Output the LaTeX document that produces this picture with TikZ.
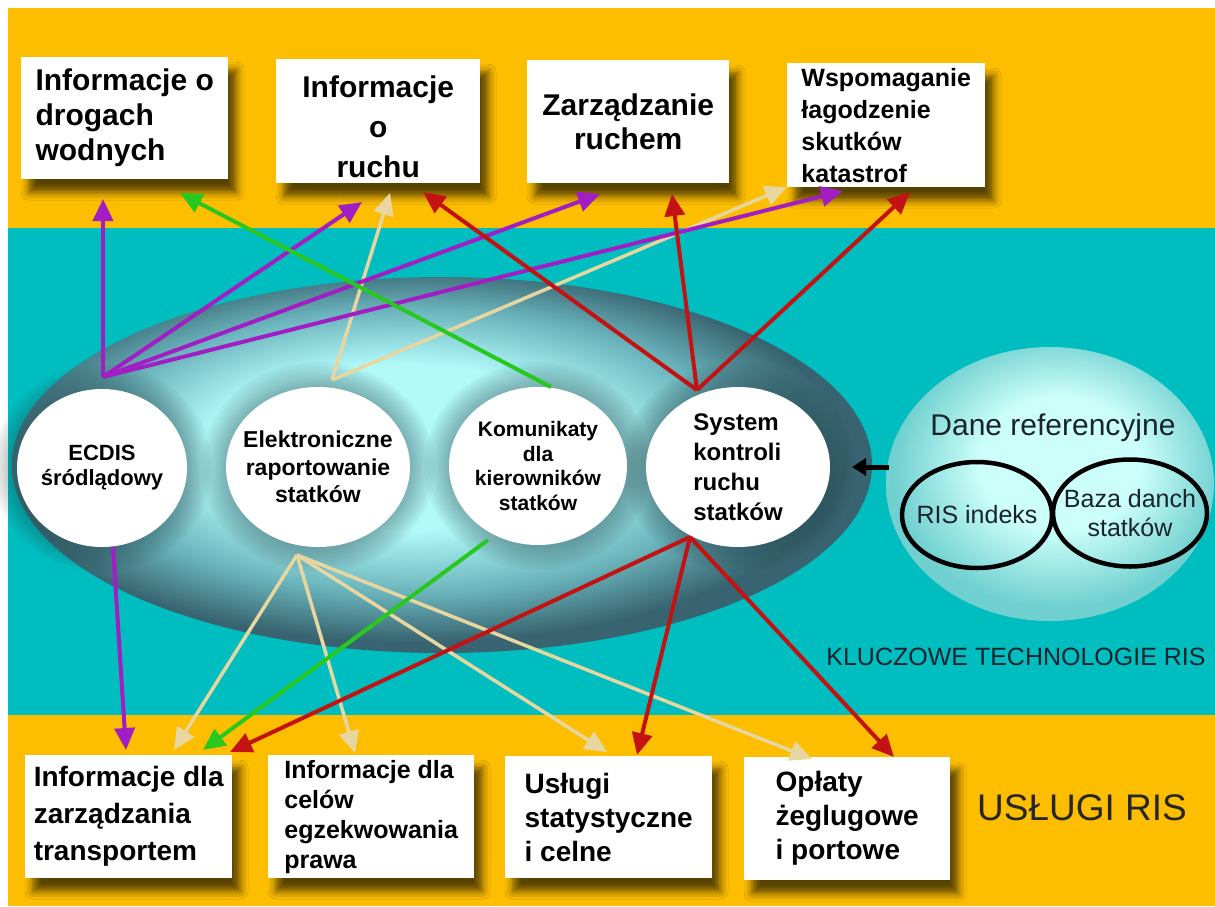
\documentclass[tikz,border=0pt]{standalone}
\usepackage{fontspec}
\setmainfont{Liberation Sans}
\usetikzlibrary{arrows.meta,shapes.geometric,shadows.blur}

\definecolor{bgorange}{RGB}{254,190,0}
\definecolor{bgteal}{RGB}{0,190,192}
\definecolor{ellhi}{RGB}{178,250,250}
\definecolor{ellmid}{RGB}{105,178,186}
\definecolor{elldark}{RGB}{55,100,112}
\definecolor{sphhi}{RGB}{205,255,250}
\definecolor{sphlo}{RGB}{112,208,208}
\definecolor{cpurple}{RGB}{160,30,195}
\definecolor{cred}{RGB}{195,18,18}
\definecolor{cgreen}{RGB}{40,200,30}
\definecolor{ctan}{RGB}{232,214,160}
\definecolor{txt}{RGB}{25,35,45}

\pgfdeclareradialshading{bigell}{\pgfpoint{-3bp}{3bp}}{color(0bp)=(ellhi); color(11bp)=(ellhi); color(19bp)=(ellmid); color(25bp)=(elldark); color(50bp)=(elldark)}
\pgfdeclareradialshading{sph}{\pgfpoint{2bp}{5bp}}{color(0bp)=(sphhi); color(12bp)=(sphhi); color(25bp)=(sphlo); color(50bp)=(sphlo)}

\newcommand\bxf[2]{\fontsize{#1}{#2}\selectfont\bfseries}

\begin{document}
\begin{tikzpicture}[x=1pt,y=-1pt,
  box/.style={fill=white, rectangle, anchor=north west, inner sep=0pt,
    blur shadow={shadow xshift=8pt, shadow yshift=-13pt, shadow blur radius=8pt, shadow opacity=65}},
  wc/.style={ellipse, fill=white, inner sep=-40pt, align=center, text=black},
  ring/.style={ellipse, draw=black, line width=4.5pt, inner sep=-40pt, align=center, text=txt, font=\fontsize{25}{29}\selectfont},
  arr/.style={line width=4pt, -{Triangle[length=22pt,width=20pt]}},
  parr/.style={arr, draw=cpurple, fill=cpurple},
  rarr/.style={arr, draw=cred, fill=cred},
  garr/.style={arr, draw=cgreen, fill=cgreen},
  tarr/.style={arr, line width=3.5pt, draw=ctan, fill=ctan},
]
\useasboundingbox (0,0) rectangle (1215,906);
% background
\fill[white] (0,0) rectangle (1215,906);
\fill[bgorange] (8,8) rectangle (1215,228);
\fill[bgteal] (8,228) rectangle (1215,715);
\fill[bgorange] (8,715) rectangle (1215,906);

% core ellipse
\node[ellipse, minimum width=860pt, minimum height=376pt, inner sep=0pt, shade, shading=bigell] (core) at (442,465) {};

% halos around circles
\foreach \cx/\cy/\rx/\ry in {102/468/85/79, 318/467/92/80, 538/466/89/79, 738/467/92/80}{
  \foreach \k in {1,...,10}{
    \fill[elldark!55!black, opacity=0.04] (\cx,\cy) ellipse [x radius=\rx+2.5*\k, y radius=\ry+2.5*\k];
  }
}

% white circles
\node[wc, minimum width=170pt, minimum height=158pt, font=\bxf{22}{25}] (ecdis) at (102,468) {ECDIS\\śródlądowy};
\node[wc, minimum width=184pt, minimum height=160pt, font=\bxf{23}{27.5}] (elek) at (318,467) {Elektroniczne\\raportowanie\\statków};
\node[wc, minimum width=178pt, minimum height=158pt, font=\bxf{21}{24.5}] (komu) at (538,466) {Komunikaty\\dla\\kierowników\\statków};
\node[wc, minimum width=184pt, minimum height=160pt, font=\bxf{24}{30}, align=left] (sys) at (738,467) {System\\kontroli\\ruchu\\statków};

% reference data sphere
\node[ellipse, minimum width=328pt, minimum height=274pt, inner sep=0pt, shade, shading=sph] (dane) at (1050,484) {};
\node[font=\fontsize{30}{34}\selectfont, text=txt, inner sep=0pt] (danet) at (1053,428) {Dane referencyjne};
\node[ring, minimum width=150pt, minimum height=106pt] (ris) at (977,515) {RIS indeks};
\node[ring, minimum width=154pt, minimum height=107pt] (baza) at (1130,513) {Baza danch\\statków};

\coordinate (daneW) at (889,467);
\coordinate (coreE) at (852,467);
\draw[line width=5pt, -{Triangle[length=14pt,width=17pt]}] (daneW) -- (coreE);

\node[font=\fontsize{25}{30}\selectfont, text=txt, inner sep=0pt] (klucz) at (1016,657) {KLUCZOWE TECHNOLOGIE RIS};
\node[font=\fontsize{37}{42}\selectfont, text=black!85, inner sep=0pt] (uslugi) at (1082,808) {USŁUGI RIS};

% service boxes (top)
\node[box, minimum width=207pt, minimum height=122pt, align=left, font=\bxf{30}{35}] (b1) at (21,57) {Informacje o\\drogach\\wodnych};
\node[box, minimum width=204pt, minimum height=124pt, align=center, font=\bxf{30}{40}] (b2) at (276,59) {\rule{0pt}{32pt}Informacje\\o\\ruchu};
\node[box, minimum width=202pt, minimum height=123pt, align=center, font=\bxf{30}{34}] (b3) at (527,60) {Zarządzanie\\ruchem};
\node[box, minimum width=198pt, minimum height=124pt, align=left, font=\bxf{25}{32}] (b4) at (787,63) {Wspomaganie\\łagodzenie\\skutków\\katastrof};
% service boxes (bottom)
\node[box, minimum width=207pt, minimum height=123pt, align=left, font=\bxf{28}{37}] (c1) at (25,755) {Informacje dla\\zarządzania\\transportem};
\node[box, minimum width=206pt, minimum height=123pt, align=left, font=\bxf{25}{30}] (c2) at (268,755) {Informacje dla\\celów\\egzekwowania\\prawa};
\node[box, minimum width=207pt, minimum height=122pt, align=left, font=\bxf{28}{34}] (c3) at (505,756) {Usługi\\statystyczne\\i celne};
\node[box, minimum width=206pt, minimum height=123pt, align=left, font=\bxf{28}{34}] (c4) at (744,757) {Opłaty\\żeglugowe\\i portowe};

% connector end points
\coordinate (ecT) at (103,377);
\coordinate (elT) at (332,380);
\coordinate (koT) at (551,387);
\coordinate (syT) at (697,390);
\coordinate (ecB) at (113,547);
\coordinate (elB) at (297,555);
\coordinate (koB) at (488,540);
\coordinate (syB) at (690,537);
\coordinate (b1p) at (103,199);
\coordinate (b1g) at (180,193);
\coordinate (b2p) at (362,202);
\coordinate (b2t) at (390,193);
\coordinate (b2r) at (423,192);
\coordinate (b3p) at (600,194);
\coordinate (b3r) at (672,194);
\coordinate (b4t) at (787,187);
\coordinate (b4p) at (843,191);
\coordinate (b4r) at (910,192);
\coordinate (c1p) at (126,750);
\coordinate (c1t) at (174,750);
\coordinate (c1g) at (203,750);
\coordinate (c1r) at (230,752);
\coordinate (c2t) at (355,753);
\coordinate (c3t) at (607,752);
\coordinate (c3r) at (637,755);
\coordinate (c4t) at (812,759);
\coordinate (c4r) at (894,757);

% tan
\draw[tarr] (elT) -- (b2t);
\draw[tarr] (elT) -- (b4t);
\draw[tarr] (elB) -- (c1t);
\draw[tarr] (elB) -- (c2t);
\draw[tarr] (elB) -- (c3t);
\draw[tarr] (elB) -- (c4t);
% purple
\draw[parr] (ecT) -- (b1p);
\draw[parr] (ecT) -- (b2p);
\draw[parr] (ecT) -- (b3p);
\draw[parr] (ecT) -- (b4p);
\draw[parr] (ecB) -- (c1p);
% green
\draw[garr] (koT) -- (b1g);
\draw[garr] (koB) -- (c1g);
% red
\draw[rarr] (syT) -- (b2r);
\draw[rarr] (syT) -- (b3r);
\draw[rarr] (syT) -- (b4r);
\draw[rarr] (syB) -- (c1r);
\draw[rarr] (syB) -- (c3r);
\draw[rarr] (syB) -- (c4r);
\end{tikzpicture}
\end{document}
